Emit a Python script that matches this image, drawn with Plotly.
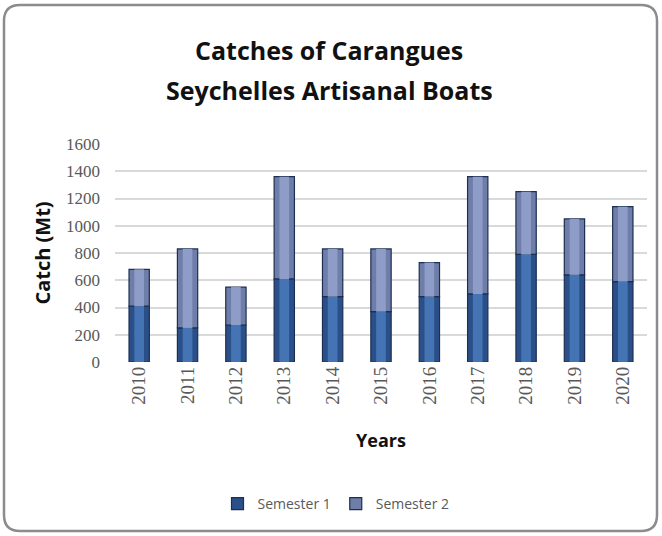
import plotly.graph_objects as go

# data
years = ["2010", "2011", "2012", "2013", "2014", "2015",
         "2016", "2017", "2018", "2019", "2020"]
semester_1 = [410, 250, 270, 610, 480, 370, 480, 500, 790, 640, 590]
semester_2 = [270, 580, 280, 750, 350, 460, 250, 860, 460, 410, 550]
title_lines = ["Catches of Carangues", "Seychelles Artisanal Boats"]

W, H = 662, 536
L, R, T, B = 115, 15, 144, 174

# colours (outer / inner shade to fake the cylinder look)
s1_colour = '#2b5089'
s1_light = '#4574b4'
s2_colour = '#6f7ea8'
s2_light = '#8e9dc8'
edge_colour = '#1c2f52'
tick_colour = '#595959'

bar_w = 0.42
shine_w = 0.2


def px(x):
    return (x - L) / (W - L - R)


def py(y):
    return (H - B - y) / (H - T - B)


fig = go.Figure()

fig.add_trace(go.Bar(
    x=years, y=semester_1, name="Semester 1", width=bar_w,
    marker=dict(color=s1_colour, line=dict(color=edge_colour, width=1.2))))
fig.add_trace(go.Bar(
    x=years, y=semester_2, base=semester_1, name="Semester 2", width=bar_w,
    marker=dict(color=s2_colour, line=dict(color=edge_colour, width=1.2))))

# lighter middle strip on each bar
fig.add_trace(go.Bar(
    x=years, y=semester_1, width=shine_w, showlegend=False, hoverinfo="skip",
    marker=dict(color=s1_light, line=dict(width=0))))
fig.add_trace(go.Bar(
    x=years, y=semester_2, base=semester_1, width=shine_w, showlegend=False,
    hoverinfo="skip", marker=dict(color=s2_light, line=dict(width=0))))

# rounded frame round the whole chart
x0, x1, y0, y1, r = px(4), px(657), py(5), py(531), 16
rx = r / (W - L - R)
ry = r / (H - T - B)
frame = (f"M {x0 + rx} {y0} L {x1 - rx} {y0} Q {x1} {y0} {x1} {y0 - ry} "
         f"L {x1} {y1 + ry} Q {x1} {y1} {x1 - rx} {y1} "
         f"L {x0 + rx} {y1} Q {x0} {y1} {x0} {y1 + ry} "
         f"L {x0} {y0 - ry} Q {x0} {y0} {x0 + rx} {y0} Z")

# two title lines, placed separately to get the wide line spacing
title_y = [50, 90]
annotations = [
    dict(text=t, x=px(329), y=py(yy), xref="paper", yref="paper",
         xanchor="center", yanchor="middle", showarrow=False,
         font=dict(size=25, color="#111111", weight="bold",
                   family="Open Sans, sans-serif"))
    for t, yy in zip(title_lines, title_y)
]

fig.update_layout(
    width=W, height=H,
    barmode="overlay",
    margin=dict(l=L, r=R, t=T, b=B),
    paper_bgcolor="white", plot_bgcolor="white",
    font=dict(family="Open Sans, Liberation Sans, sans-serif", color=tick_colour),
    annotations=annotations,
    shapes=[dict(type="path", path=frame, xref="paper", yref="paper",
                 line=dict(color="#8c8c8c", width=2.5), layer="below")],
    legend=dict(
        orientation="h", x=px(336), xanchor="center", y=py(504), yanchor="middle",
        font=dict(size=14, color=tick_colour), traceorder="normal",
        itemwidth=30),
)

fig.update_xaxes(
    tickangle=-90, tickfont=dict(size=19, color=tick_colour,
                                 family="Liberation Serif, serif"),
    showline=False, ticks="",
    title=dict(text="Years", standoff=30,
               font=dict(size=18, color="#111111", weight="bold")))
fig.update_yaxes(
    range=[0, 1600], dtick=200,
    tickfont=dict(size=17, color=tick_colour, family="Liberation Serif, serif"),
    gridcolor="#d9d9d9", gridwidth=1.5, zeroline=False, ticks="",
    ticklabelstandoff=14,
    title=dict(text="Catch (Mt)", standoff=10,
               font=dict(size=20, color="#111111", weight="bold")))

fig.write_html("out.html", config={"displayModeBar": False},
               post_script="document.body.style.margin='0';")
